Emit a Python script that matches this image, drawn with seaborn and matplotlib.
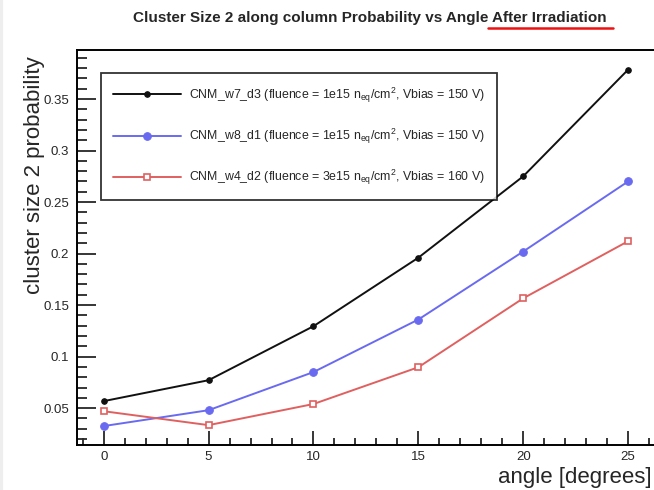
import matplotlib
matplotlib.use("Agg")
import matplotlib.pyplot as plt
import seaborn as sns
import pandas as pd
from matplotlib.lines import Line2D
from matplotlib.ticker import MultipleLocator

angles = [0, 5, 10, 15, 20, 25]
w7_d3 = [0.0568, 0.0771, 0.1295, 0.1960, 0.2750, 0.3785]
w8_d1 = [0.0326, 0.0480, 0.0850, 0.1360, 0.2020, 0.2700]
w4_d2 = [0.0470, 0.0335, 0.0540, 0.0897, 0.1566, 0.2120]

labels = [
    r"CNM_w7_d3 (fluence = 1e15 n$_{\mathregular{eq}}$/cm$^{\mathregular{2}}$, Vbias = 150 V)",
    r"CNM_w8_d1 (fluence = 1e15 n$_{\mathregular{eq}}$/cm$^{\mathregular{2}}$, Vbias = 150 V)",
    r"CNM_w4_d2 (fluence = 3e15 n$_{\mathregular{eq}}$/cm$^{\mathregular{2}}$, Vbias = 160 V)",
]
title = "Cluster Size 2 along column Probability vs Angle After Irradiation"
xlabel = "angle [degrees]"
ylabel = "cluster size 2 probability"

df = pd.concat([
    pd.DataFrame({"angle": angles, "prob": w7_d3, "series": labels[0]}),
    pd.DataFrame({"angle": angles, "prob": w8_d1, "series": labels[1]}),
    pd.DataFrame({"angle": angles, "prob": w4_d2, "series": labels[2]}),
])

sns.set_style("ticks")
plt.rcParams["font.family"] = ["Liberation Sans", "DejaVu Sans"]
plt.rcParams["mathtext.fontset"] = "custom"
plt.rcParams["mathtext.rm"] = "Liberation Sans"

fig = plt.figure(figsize=(6.54, 4.9), dpi=100)
fig.patch.set_facecolor("white")
ax = fig.add_axes([0.1185, 0.0918, 0.89, 0.806])

styles = [
    dict(color="#111111", marker="o", markersize=4, markerfacecolor="#111111", markeredgecolor="#111111"),
    dict(color="#6a6af0", marker="o", markersize=5.5, markerfacecolor="#6a6af0", markeredgecolor="#6a6af0"),
    dict(color="#e06060", marker="s", markersize=5, markerfacecolor="white", markeredgecolor="#e06060", markeredgewidth=1.2),
]
for lab, st in zip(labels, styles):
    sub = df[df["series"] == lab]
    sns.lineplot(data=sub, x="angle", y="prob", ax=ax, linewidth=1.4, label=lab, **st)

ax.set_xlim(-1.25, 26.5)
ax.set_ylim(0.0142, 0.3975)
ax.xaxis.set_major_locator(MultipleLocator(5))
ax.xaxis.set_minor_locator(MultipleLocator(1))
ax.yaxis.set_major_locator(MultipleLocator(0.05))
ax.yaxis.set_minor_locator(MultipleLocator(0.01))
ax.set_xticks(angles)
ax.set_xticklabels([str(a) for a in angles])
ax.set_yticks([0.05, 0.1, 0.15, 0.2, 0.25, 0.3, 0.35])
ax.set_yticklabels(["0.05", "0.1", "0.15", "0.2", "0.25", "0.3", "0.35"])

ax.tick_params(axis="y", which="major", direction="in", length=14, width=1.3, labelsize=9.5, pad=6, right=False)
ax.tick_params(axis="y", which="minor", direction="in", length=7, width=1.3, right=False)
ax.tick_params(axis="x", which="major", direction="in", length=10, width=1.3, labelsize=9.5, pad=4.5, top=False)
ax.tick_params(axis="x", which="minor", direction="in", length=5, width=1.3, top=False)
for s in ax.spines.values():
    s.set_linewidth(1.4)
    s.set_color("black")

ax.set_xlabel("")
ax.set_ylabel("")
fig.text(0.997, 0.005, xlabel, ha="right", va="bottom", fontsize=16)
fig.text(0.052, 0.643, ylabel, ha="center", va="center", rotation=90, fontsize=16)

fig.text(0.566, 0.963, title, ha="center", va="center", fontsize=11, fontweight="bold")
fig.add_artist(Line2D([0.746, 0.937], [0.943, 0.943], transform=fig.transFigure, color="#ee1111", linewidth=1.8))
fig.add_artist(Line2D([0.002, 0.002], [0, 1], transform=fig.transFigure, color="#eeeeee", linewidth=3))

leg = ax.legend(loc="upper left", bbox_to_anchor=(0.04, 0.942), fontsize=8.9, frameon=True,
                fancybox=False, edgecolor="black", borderpad=1.0, labelspacing=1.8,
                handlelength=5.5, handletextpad=0.65, borderaxespad=0)
leg.get_frame().set_linewidth(1.3)

fig.savefig("out.png", dpi=100, facecolor="white")
